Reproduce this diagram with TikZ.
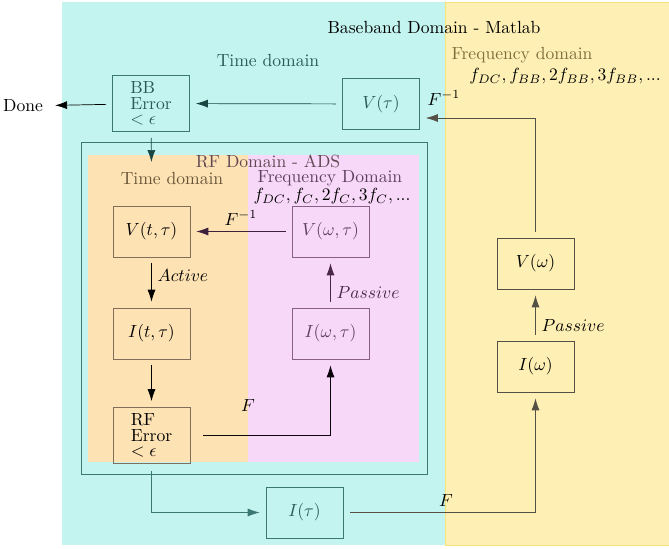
\documentclass[tikz,border=0pt]{standalone}
\usepackage{amsmath}
\usetikzlibrary{arrows.meta}
\definecolor{bbcyan}{RGB}{195,244,240}
\definecolor{bbyellow}{RGB}{254,240,180}
\definecolor{yellowline}{RGB}{250,228,120}
\definecolor{rforange}{RGB}{253,226,180}
\definecolor{rfpink}{RGB}{248,216,248}
\definecolor{tealline}{RGB}{60,120,115}
\definecolor{tealdark}{RGB}{25,70,65}
\definecolor{tealtext}{RGB}{45,90,85}
\definecolor{brownline}{RGB}{130,110,90}
\definecolor{browntext}{RGB}{105,85,55}
\definecolor{purpleline}{RGB}{135,95,135}
\definecolor{purpledark}{RGB}{75,40,75}
\definecolor{purpletext}{RGB}{95,65,95}
\definecolor{olivetext}{RGB}{125,110,60}
\definecolor{grayline}{RGB}{85,80,70}

\begin{document}
\begin{tikzpicture}[x=0.02cm, y=-0.02cm,
    box/.style={draw, minimum width=1.54cm, minimum height=1.02cm},
    conn/.style={-{Latex[length=2.4mm, width=1.6mm]}, shorten <=3.4pt, shorten >=3.4pt}]
  \useasboundingbox (0,0) rectangle (669,548);
  % domains
  \fill[bbcyan] (62,2) rectangle (445,545);
  \filldraw[fill=bbyellow, draw=yellowline] (445,2) rectangle (669,545);
  \draw[tealline] (81,142) rectangle (427,474);
  \fill[rforange] (88,155) rectangle (248,462);
  \fill[rfpink] (248,155) rectangle (419,462);
  \node (bbtitle) at (434,27) {Baseband Domain - Matlab};
  \node[tealtext] (bbtime) at (268,60) {Time domain};
  \node[olivetext] (bbfreq) at (522,55) {Frequency domain};
  \node (bbharm) at (565,76) {$f_{DC}, f_{BB}, 2f_{BB}, 3f_{BB}, ...$};
  \node[purpletext!70!browntext] (rftitle) at (268,161) {RF Domain - ADS};
  \node[browntext] (rftime) at (172,178) {Time domain};
  \node[purpletext] (rffreq) at (330,178.5) {Frequency Domain};
  \node (rfharm) at (332,196.5) {$f_{DC}, f_C, 2f_C, 3f_C, ...$};

  % blocks
  \node[box, tealline, text=tealtext, align=left] (bberr) at (151,103.5) {BB\\[-3pt]Error\\[-3pt]$<\epsilon$};
  \node[box, tealline, text=tealtext] (vtau) at (381,104) {$V(\tau)$};
  \node (done) at (23,106) {Done};
  \node[box, brownline, text=black] (vttau) at (151.5,231.5) {$V(t,\tau)$};
  \node[box, purpleline, text=purpletext] (vwtau) at (330.5,231.5) {$V(\omega,\tau)$};
  \node[box, brownline, text=black] (ittau) at (151.5,333.5) {$I(t,\tau)$};
  \node[box, purpleline, text=purpletext] (iwtau) at (330.5,333.5) {$I(\omega,\tau)$};
  \node[box, brownline, text=black, align=left] (rferr) at (151.5,435.5) {RF\\[-3pt]Error\\[-3pt]$<\epsilon$};
  \node[box, tealline, text=tealtext] (itau) at (304.5,512.5) {$I(\tau)$};
  \node[box, grayline, text=black] (vw) at (535.5,263.5) {$V(\omega)$};
  \node[box, grayline, text=black] (iw) at (535.5,366.5) {$I(\omega)$};
  \coordinate (rfin) at (151.5,168);

  % connections
  \foreach \a/\b/\c in {vtau/bberr/tealdark, bberr/done/black, bberr/rfin/tealdark, ittau/rferr/black}
    \draw[conn, \c] (\a) -- (\b);
  \draw[conn, purpledark!80!black] (vwtau) -- node[midway, above, black] {$F^{-1}$} (vttau);
  \draw[conn] (vttau) -- node[pos=0.37, right] {$Active$} (ittau);
  \draw[conn, purpledark] (iwtau) -- node[pos=0.3, right] {$Passive$} (vwtau);
  \draw[conn, grayline] (iw) -- node[pos=0.3, right, black] {$Passive$} (vw);
  \draw[conn, shorten <=7.4pt, black!85!purpledark] (rferr.east) -| (iwtau.south);
  \node (frf) at (248,405) {$F$};
  \draw[conn, tealline, shorten <=4pt] (rferr.south) |- (itau.west);
  \draw[conn, grayline, shorten <=4pt] (itau.east) -| (iw.south);
  \node (fbb) at (446,500) {$F$};
  \draw[conn, grayline] (vw.north) |- ([yshift=-0.28cm]vtau.east);
  \node (finv) at (444,98) {$F^{-1}$};
\end{tikzpicture}
\end{document}
